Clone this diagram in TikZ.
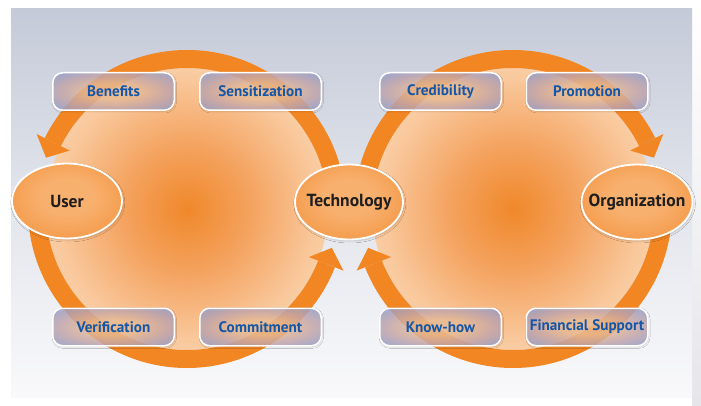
\documentclass[tikz,border=0pt]{standalone}
\usepackage{fontspec}
\setmainfont{PT Sans}
\usetikzlibrary{shapes.geometric,shadows.blur,calc}
\definecolor{ringor}{RGB}{241,134,34}
\definecolor{bgtop}{RGB}{197,202,216}
\definecolor{bgmid}{RGB}{226,229,236}
\definecolor{bgbot}{RGB}{249,249,251}
\definecolor{dc0}{RGB}{240,136,42}
\definecolor{dc1}{RGB}{244,162,94}
\definecolor{dc2}{RGB}{249,200,156}
\definecolor{dc3}{RGB}{253,228,204}
\definecolor{dc4}{RGB}{254,244,234}
\definecolor{el0}{RGB}{248,176,110}
\definecolor{el1}{RGB}{239,128,30}
\definecolor{bx0}{RGB}{240,192,150}
\definecolor{bx1}{RGB}{200,170,175}
\definecolor{bx2}{RGB}{140,158,212}
\definecolor{bx3}{RGB}{132,152,212}
\definecolor{boxtext}{RGB}{20,86,168}
\definecolor{elltext}{RGB}{30,30,30}
\definecolor{sidegray}{RGB}{230,230,234}
\pgfdeclareradialshading{discshade}{\pgfpoint{0bp}{0bp}}{color(0bp)=(dc0); color(11bp)=(dc1); color(23bp)=(dc2); color(35bp)=(dc3); color(50bp)=(dc4)}
\pgfdeclareradialshading{ellshade}{\pgfpoint{0bp}{4bp}}{color(0bp)=(el0); color(12bp)=(el0); color(50bp)=(el1)}
\pgfdeclareradialshading{boxshade}{\pgfpoint{0bp}{0bp}}{color(0bp)=(bx0); color(10bp)=(bx0); color(22bp)=(bx1); color(36bp)=(bx2); color(50bp)=(bx3)}
\tikzset{
  ring/.style={draw=ringor, line width=18pt},
  tiparrow/.style={fill=ringor},
  ell/.style={ellipse, shading=ellshade, draw=white, line width=1.8pt, inner sep=0pt,
    minimum width=110, minimum height=75, text=elltext,
    font=\bfseries\fontsize{17.5}{19}\selectfont,
    blur shadow={shadow xshift=0.8pt, shadow yshift=-1.5pt, shadow blur radius=2pt, shadow opacity=20}},
  stepbox/.style={rounded corners=10pt, draw=white, line width=1.5pt, shading=boxshade,
    fill opacity=0.82, text opacity=1, minimum width=121.5, minimum height=37.5, inner sep=0pt,
    text=boxtext, font=\bfseries\fontsize{15.2}{17}\selectfont,
    blur shadow={shadow xshift=0.8pt, shadow yshift=-1.2pt, shadow blur radius=1.5pt, shadow opacity=18}}
}
\newcommand{\cl}[1]{\makebox[0pt][c]{#1}}
\begin{document}
\begin{tikzpicture}[x=1pt,y=-1pt]
\useasboundingbox (0,0) rectangle (701,406);
\fill[white] (0,0) rectangle (701,406);
\shade[top color=white, bottom color=sidegray] (692,0) rectangle (701,406);
\shade[top color=bgtop, bottom color=bgbot, middle color=bgmid] (11,9) rectangle (692,397);
% circle centres
\coordinate (lc) at (187,209);
\coordinate (rc) at (513,209);
% discs
\shade[shading=discshade] (lc) circle[radius=141];
\shade[shading=discshade] (rc) circle[radius=141];
% left ring (angles negated because y grows downward)
\draw[ring] (lc) ++(-5:150) arc[start angle=-5, end angle=-153.5, radius=150];
\fill[tiparrow] ($(lc)+(-153.5:131)$) -- ($(lc)+(-153.5:168)$) -- ($(lc)+(-160:150)$) -- cycle;
\draw[ring] (lc) ++(-185:150) arc[start angle=-185, end angle=-338.5, radius=150];
\fill[tiparrow] ($(lc)+(-338.5:131)$) -- ($(lc)+(-338.5:168)$) -- ($(lc)+(-345:150)$) -- cycle;
% right ring
\draw[ring] (rc) ++(-175:150) arc[start angle=-175, end angle=-26.5, radius=150];
\fill[tiparrow] ($(rc)+(-26.5:131)$) -- ($(rc)+(-26.5:168)$) -- ($(rc)+(-20:150)$) -- cycle;
\draw[ring] (rc) ++(5:150) arc[start angle=5, end angle=158.5, radius=150];
\fill[tiparrow] ($(rc)+(158.5:131)$) -- ($(rc)+(158.5:168)$) -- ($(rc)+(165:150)$) -- cycle;
% ellipses
\node[ell] (user) at (67,201) {\cl{User}};
\node[ell, minimum width=108] (tech) at (349,202) {\cl{Technology}};
\node[ell, minimum width=111] (org) at (637,202) {\cl{Organization}};
% boxes
\node[stepbox] (benefits) at (113.5,91.5) {Benefits};
\node[stepbox] (sens) at (260.5,91.5) {Sensitization};
\node[stepbox] (cred) at (440.5,91.5) {Credibility};
\node[stepbox] (prom) at (587,91.5) {Promotion};
\node[stepbox] (verif) at (113.5,327) {Verification};
\node[stepbox] (commit) at (260.5,327) {Commitment};
\node[stepbox] (know) at (440.5,327) {Know-how};
\node[stepbox] (fin) at (587,327) {Financial Support};
\end{tikzpicture}
\end{document}
